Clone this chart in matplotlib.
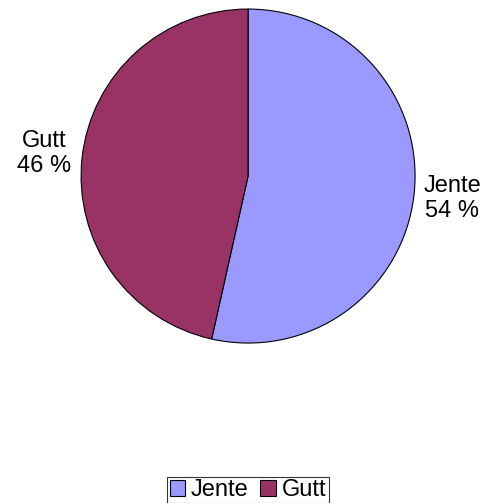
import matplotlib.pyplot as plt

plt.rcParams['font.family'] = ['Liberation Sans', 'DejaVu Sans']

labels = ['Jente', 'Gutt']
shares = [53.5, 46.5]
pct_labels = ['54 %', '46 %']
colors = ['#9999FF', '#993366']

fig = plt.figure(figsize=(4.85, 5.03), dpi=100)
ax = fig.add_axes([0.167, 0.318, 0.689, 0.664])

wedges, texts = ax.pie(shares, colors=colors, startangle=90, counterclock=False,
                       labels=[f'{l}\n{p}' for l, p in zip(labels, pct_labels)],
                       labeldistance=1.23,
                       wedgeprops={'edgecolor': 'black', 'linewidth': 0.8},
                       textprops={'fontsize': 17})
for t in texts:
    t.set_ha('center')
    t.set_va('center')
    t.set_linespacing(1.2)
ax.set_xlim(-1, 1)
ax.set_ylim(-1, 1)
ax.set_aspect('equal')

leg = fig.legend(wedges, labels, loc='center', bbox_to_anchor=(248 / 485, 1 - 490 / 503),
                 ncol=2, fontsize=17, frameon=True, fancybox=False,
                 handlelength=0.65, handleheight=0.65, handletextpad=0.25,
                 columnspacing=0.5, borderpad=0.1, borderaxespad=0)
leg.get_frame().set_edgecolor('black')
leg.get_frame().set_linewidth(0.8)

fig.savefig('out.png', dpi=100)
